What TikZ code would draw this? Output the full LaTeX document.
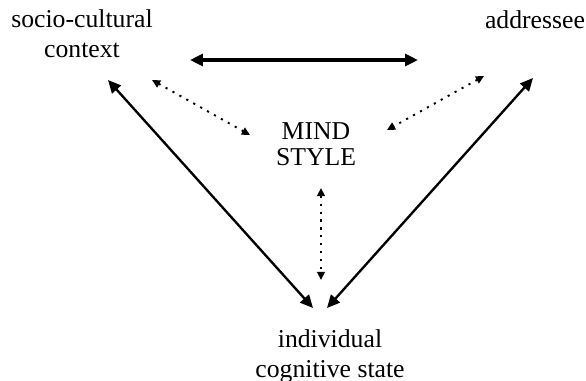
\documentclass[tikz,border=0pt]{standalone}
\usepackage{fontspec}
\setmainfont{Liberation Serif}
\usetikzlibrary{arrows.meta, positioning}

\begin{document}
\begin{tikzpicture}[
    x=0.4667pt, y=-0.4667pt,
    font=\fontsize{12}{14}\selectfont,
    every node/.style={inner sep=0pt, align=center},
    strong/.style={{Triangle[length=6pt,width=5.5pt]}-{Triangle[length=6pt,width=5.5pt]}, line width=1.1pt},
    weak/.style={{Triangle[length=3.8pt,width=3.6pt]}-{Triangle[length=3.8pt,width=3.6pt]}, line width=0.9pt, dash pattern=on 1pt off 2.7pt}
]
\useasboundingbox (0,0) rectangle (586,380);

\node (ctx) at (82,34) {socio-cultural\\context};
\node[anchor=base] (addr) at (535,28) {addressee};
\node (mind) at (316,144.5) {MIND\\[-2pt]STYLE};
\node (indiv) at (330,356) {individual\\cognitive state};

\path
    ([shift={(108,26)}]ctx.center)  edge [strong, line width=1.5pt] ([shift={(-117,32)}]addr.base)
    ([shift={(26,46)}]ctx.center)   edge [strong] ([shift={(-17,-48)}]indiv.center)
    ([shift={(-2,50)}]addr.base)    edge [strong] ([shift={(-3,-48)}]indiv.center)
    ([shift={(70,46)}]ctx.center)   edge [weak]   ([shift={(-66,-9.5)}]mind.center)
    ([shift={(-51,48)}]addr.base)   edge [weak]   ([shift={(71,-14.5)}]mind.center)
    ([shift={(5,43.5)}]mind.center) edge [weak]   ([shift={(-9,-76)}]indiv.center)
    ;

\end{tikzpicture}
\end{document}
